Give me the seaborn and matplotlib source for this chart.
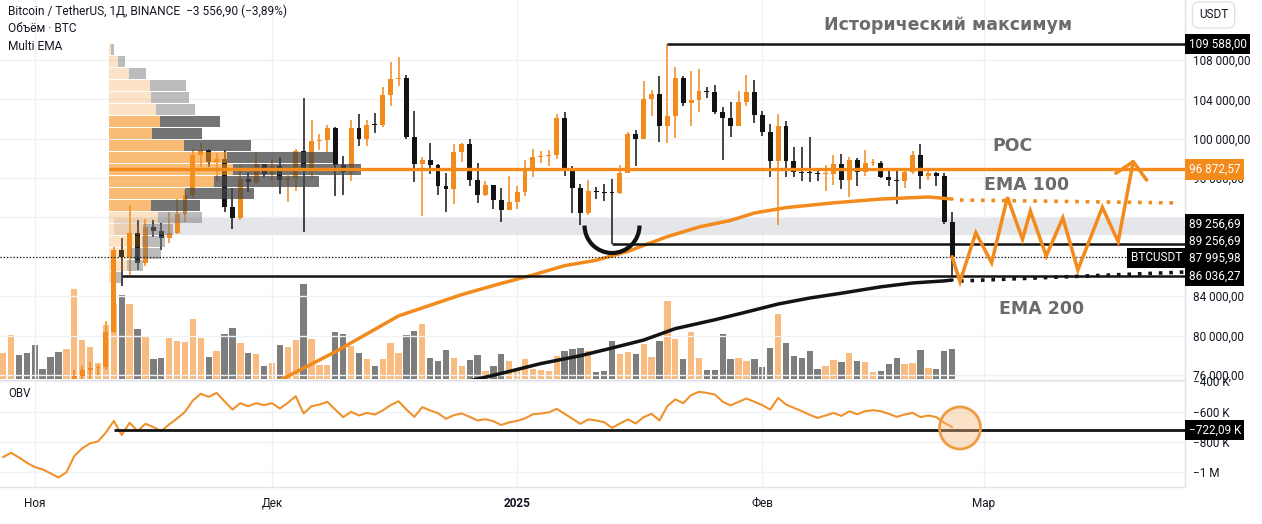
import numpy as np
import pandas as pd
import matplotlib
matplotlib.use("Agg")
import matplotlib.pyplot as plt
import matplotlib.dates as mdates
from matplotlib.patches import Arc, Ellipse
import seaborn as sns

# ---------------- data ----------------
# daily BTCUSDT candles, first one 2024-11-06
candle_start = "2024-11-06"
opens = [75300, 75900, 76540, 76680, 76800, 80370, 88650, 87950, 90380, 87330,
         91030, 90590, 89860, 90460, 92310, 94290, 98320, 98890, 97670, 97900,
         93010, 91970, 95860, 95640, 97460, 96410, 97190, 95840, 96000, 98770,
         96940, 99740, 99830, 101110, 97280, 96590, 101130, 100000, 101420, 101370,
         104460, 106060, 106130, 100200, 97460, 97810, 97290, 95190, 94880, 98660,
         99430, 95790, 94300, 95300, 93740, 92790, 93580, 94590, 96990, 98170,
         98240, 98310, 102080, 96920, 95040, 92480, 94700, 94570, 94490, 94470,
         96530, 100500, 99990, 104080, 104560, 101330, 102260, 106140, 103650, 103960,
         104820, 104710, 102680, 102090, 101330, 103730, 104720, 102430, 100640, 97700,
         101330, 97760, 96610, 96550, 96510, 96440, 96460, 97430, 95780, 97870,
         96610, 97500, 97570, 96120, 95780, 95670, 96640, 98310, 96180, 96550,
         96260, 91550]
highs = [76500, 76900, 77270, 76990, 81500, 89000, 89960, 93270, 91790, 91850,
         91780, 91450, 92600, 93900, 94830, 98990, 99590, 98910, 98560, 98870,
         94970, 97210, 96650, 98690, 97460, 97840, 98130, 96310, 99000, 104090,
         101900, 100440, 101350, 101220, 98270, 101890, 102540, 101900, 102650, 105250,
         107780, 108350, 106520, 102800, 98100, 99540, 97450, 96540, 99490, 99570,
         99960, 97540, 95730, 95300, 95020, 96250, 95150, 97840, 98980, 98730,
         98810, 102480, 102720, 97260, 95350, 95840, 95050, 95390, 95890, 97370,
         100680, 100870, 105870, 104990, 106420, 109590, 107240, 106390, 106850, 107120,
         105290, 105500, 103220, 103780, 104800, 106460, 106010, 102780, 101460, 102500,
         101750, 99150, 99120, 100140, 96880, 97320, 98350, 98480, 98120, 98080,
         98830, 97970, 97700, 97050, 96750, 96900, 98710, 99480, 96980, 96650,
         96500, 92540]
lows = [74400, 74750, 75570, 75950, 76490, 80220, 85070, 86130, 86670, 87070,
        90060, 88720, 89380, 90360, 91500, 94010, 97120, 97140, 95730, 92600,
        90790, 91790, 94610, 95390, 96150, 95690, 94390, 93580, 94660, 90500,
        95980, 98840, 98660, 94150, 94260, 95660, 99310, 99210, 100610, 101240,
        103330, 105320, 100000, 95590, 92180, 96400, 94250, 92520, 93380, 97630,
        95200, 93500, 94140, 92880, 91530, 92750, 92890, 94200, 96100, 97560,
        97250, 97930, 96180, 92500, 91220, 92210, 93830, 93690, 89260, 94350,
        96500, 97260, 99950, 102280, 99650, 99550, 100120, 103340, 101260, 102750,
        104110, 102520, 97800, 100210, 101330, 103280, 101560, 100280, 96150, 91230,
        96150, 96160, 95680, 95620, 95690, 94710, 95260, 94880, 94090, 95220,
        96250, 97220, 96050, 95210, 93390, 95030, 96420, 94870, 95770, 95230,
        91350, 86040]
closes = [75900, 76540, 76680, 76800, 80370, 88650, 87950, 90380, 87330, 91030,
          90590, 89860, 90460, 92310, 94290, 98320, 98890, 97670, 97900, 93010,
          91970, 95860, 95640, 97460, 96410, 97190, 95840, 96000, 98770, 96940,
          99740, 99830, 101110, 97280, 96590, 101130, 100000, 101420, 101370, 104460,
          106060, 106130, 100200, 97460, 97810, 97290, 95190, 94880, 98660, 99430,
          95790, 94300, 95300, 93740, 92790, 93580, 94590, 96990, 98170, 98240,
          98310, 102080, 96920, 95040, 92480, 94700, 94570, 94490, 94470, 96530,
          100500, 99990, 104080, 104560, 101330, 102260, 106140, 103650, 103960, 104820,
          104710, 102680, 102090, 101330, 103730, 104720, 102430, 100640, 97700, 101330,
          97760, 96610, 96550, 96510, 96440, 96460, 97430, 95780, 97870, 96610,
          97500, 97570, 96120, 95780, 95670, 96640, 98310, 96180, 96550, 96260,
          91550, 87996]

# volume (thousand BTC, approx), first bar 2024-10-28; u = up day, d = down day
vol_start = "2024-10-28"
volume = [26, 44, 24, 26, 34, 10, 22, 27, 30, 90,
          39, 32, 16, 54, 75, 84, 75, 50, 42, 20,
          21, 41, 38, 37, 60, 41, 22, 28, 45, 51,
          36, 26, 25, 13, 16, 34, 32, 39, 95, 40,
          14, 14, 47, 45, 33, 26, 20, 13, 20, 36,
          26, 44, 48, 55, 21, 18, 29, 21, 13, 19,
          24, 8, 13, 25, 18, 10, 20, 10, 9, 8,
          23, 28, 30, 31, 28, 7, 8, 38, 25, 27,
          25, 35, 22, 38, 78, 40, 20, 47, 21, 9,
          9, 45, 20, 21, 18, 20, 12, 31, 65, 36,
          23, 21, 28, 10, 13, 19, 17, 26, 18, 17,
          7, 8, 15, 21, 15, 16, 29, 11, 10, 28,
          30]
vol_dir = ("uudddddduu uuuuududud duuuuududd udududuudu uuddududuu "
           "udduddduud dudduuuuuu uddduddduu duuduuduud ddduudddud "
           "dddduududu uddduududd d").replace(" ", "")

# OBV, thousand BTC, same days as volume
obv = [-900, -871, -902, -937, -965, -981, -1007, -1034, -1000, -893,
       -842, -809, -796, -738, -661, -754, -673, -728, -680, -702,
       -728, -684, -645, -601, -526, -482, -502, -476, -531, -586,
       -544, -564, -544, -557, -544, -579, -542, -498, -612, -564,
       -553, -535, -586, -636, -601, -625, -608, -619, -592, -557,
       -531, -586, -634, -570, -592, -610, -647, -623, -612, -634,
       -658, -650, -663, -688, -670, -661, -644, -617, -612, -605,
       -581, -614, -647, -680, -651, -658, -669, -707, -678, -651,
       -678, -636, -614, -658, -563, -519, -544, -491, -469, -476,
       -487, -535, -559, -535, -513, -535, -557, -586, -509, -553,
       -575, -597, -621, -641, -625, -608, -628, -597, -617, -597,
       -590, -597, -614, -634, -619, -608, -636, -625, -636, -673,
       -702]

ema100_dates = ["2024-11-28", "2024-12-02", "2024-12-09", "2024-12-17", "2024-12-25",
                "2024-12-30", "2025-01-03", "2025-01-07", "2025-01-11", "2025-01-15",
                "2025-01-20", "2025-01-24", "2025-01-28", "2025-01-31", "2025-02-04",
                "2025-02-10", "2025-02-16", "2025-02-22", "2025-02-25"]
ema100 = [73810, 75450, 78340, 81990, 84160, 85300, 86150, 87100, 87650, 88550,
          90050, 91030, 91700, 92450, 93000, 93480, 93870, 94080, 93870]
ema200_dates = ["2024-12-24", "2024-12-27", "2024-12-30", "2025-01-04", "2025-01-09",
                "2025-01-13", "2025-01-17", "2025-01-21", "2025-01-26", "2025-01-30",
                "2025-02-03", "2025-02-07", "2025-02-11", "2025-02-16", "2025-02-20",
                "2025-02-24", "2025-02-25"]
ema200 = [75000, 75580, 76150, 77150, 77950, 78730, 79540, 80700, 81600, 82390,
          83200, 83810, 84300, 84950, 85340, 85550, 85640]

# dotted projections of both EMAs (days after 2024-11-01)
ema100_ext_day = [117.0, 144.8]
ema100_ext = [93770, 93470]
ema200_ext_day = [117.0, 145.4]
ema200_ext = [85540, 86450]

# visible-range volume profile (20 rows, top to bottom): up / down volume
profile_price = [109032, 107816, 106600, 105384, 104168, 102952, 101736, 100520, 99304, 98088,
                 96872, 95656, 94440, 93224, 92008, 90792, 89576, 88360, 87144, 85928]
profile_up = [2, 9, 20, 41, 42, 47, 51, 43, 75, 118, 124, 105, 76, 42, 49, 34, 33, 22, 18, 7]
profile_down = [3, 7, 17, 36, 38, 39, 60, 50, 67, 106, 128, 105, 69, 49, 44, 30, 23, 30, 16, 5]
value_area = [False] * 6 + [True] * 8 + [False] * 6

poc = 96872.57
ath = 109588.00
support_1 = 89256.69
support_2 = 86036.27
last_price = 87995.98
obv_level = -722.09
zone_low, zone_high = 90200, 91900

# hand-drawn forecast path (days after 2024-11-01, price)
path_day = [116.0, 117.0, 119.0, 121.0, 123.0, 124.9, 125.9, 127.9, 130.0, 131.9, 135.0, 137.0, 138.9]
path_price = [88010, 85470, 90450, 87400, 94050, 89780, 92655, 88080, 91970, 86660, 93030, 89530, 97665]
arrow_day = [136.7, 138.9, 140.6]
arrow_price = [96490, 97665, 95800]

months = ["2024-11-01", "2024-12-01", "2025-01-01", "2025-02-01", "2025-03-01"]
month_labels = ["Ноя", "Дек", "2025", "Фев", "Мар"]

# ---------------- style ----------------
ORANGE = "#f28a1c"
BLACK = "#131313"
GRID = "#f0f1f4"
EDGE = "#e0e3eb"
W, H = 1262, 524
PX_DAY = 7.91        # pixels per day
PX_K = 0.1515        # pixels per thousand OBV

sns.set_style("white")
plt.rcParams["font.family"] = ["Roboto", "DejaVu Sans"]


def rect(x0, y0, x1, y1):
    return [x0 / W, 1 - y1 / H, (x1 - x0) / W, (y1 - y0) / H]


def dnum(s):
    if isinstance(s, str):
        return mdates.date2num(pd.Timestamp(s))
    return mdates.date2num(pd.to_datetime(s).values)


t0 = mdates.date2num(pd.Timestamp("2024-11-01"))
cx = mdates.date2num(pd.date_range(candle_start, periods=len(opens)).values)
vx = mdates.date2num(pd.date_range(vol_start, periods=len(volume)).values)

fig = plt.figure(figsize=(W / 100, H / 100), dpi=100)
ax_vol = fig.add_axes(rect(0, 0, 1185, 379))
ax = fig.add_axes(rect(0, 0, 1185, 379), sharex=ax_vol)
ax_obv = fig.add_axes(rect(0, 380, 1185, 487), sharex=ax_vol)
ax.patch.set_alpha(0)
ax_vol.axis("off")

xmin, xmax = t0 - 4.39, t0 + 145.45
ax.set_xlim(xmin, xmax)
ax.set_ylim(75581, 114097)
ax_vol.set_ylim(0, 379)
ax_obv.set_ylim(-1097, -391)

# volume
vcol = ["#f8bb80" if d == "u" else "#7d7d7d" for d in vol_dir]
ax_vol.bar(vx, volume, width=0.8, color=vcol, linewidth=0)

# grey zone
ax.fill_between([dnum("2024-11-11"), xmax], zone_low, zone_high, color="#e5e6e9", lw=0, zorder=1)

# candles
o, h, l, c = map(np.array, (opens, highs, lows, closes))
ccol = np.where(c >= o, ORANGE, BLACK)
ax.vlines(cx, l, h, colors=ccol, lw=1.1, zorder=3)
ax.bar(cx, np.maximum(np.abs(c - o), 110), bottom=np.minimum(o, c), width=0.62,
       color=ccol, linewidth=0, zorder=3)

# volume profile
p_left = dnum("2024-11-10") + 0.4
up_w = np.array(profile_up) / PX_DAY
dn_w = np.array(profile_down) / PX_DAY
for y, uw, dw, va in zip(profile_price, up_w, dn_w, value_area):
    ax.barh(y, uw, left=p_left, height=1090,
            color=(0.97, 0.58, 0.12, 0.62 if va else 0.26), lw=0, zorder=5)
    ax.barh(y, dw, left=p_left + uw, height=1090,
            color=(0.27, 0.27, 0.27, 0.75) if va else (0.48, 0.48, 0.48, 0.5), lw=0, zorder=5)

# EMAs
sns.lineplot(x=dnum(ema100_dates), y=ema100, ax=ax, color=ORANGE, lw=2.5, zorder=6)
sns.lineplot(x=dnum(ema200_dates), y=ema200, ax=ax, color=BLACK, lw=2.5, zorder=6)
ax.plot(t0 + np.array(ema100_ext_day), ema100_ext, color=ORANGE, lw=2.6,
        ls=(0, (1, 1.9)), zorder=6)
ax.plot(t0 + np.array(ema200_ext_day), ema200_ext, color=BLACK, lw=2.6,
        ls=(0, (1, 1.9)), zorder=6)

# horizontal rays
ax.hlines(poc, p_left, xmax, color=ORANGE, lw=2.4, zorder=6)
ax.hlines(ath, dnum("2025-01-20"), xmax, color=BLACK, lw=1.8, zorder=6)
ax.hlines(support_1, dnum("2025-01-13"), xmax, color=BLACK, lw=1.8, zorder=6)
ax.hlines(support_2, dnum("2024-11-12"), xmax, color=BLACK, lw=1.8, zorder=6)
ax.axhline(last_price, xmax=1128 / 1185, color=BLACK, lw=0.9, ls=(0, (1, 1.6)), zorder=6)

# smile under the January low
ax.add_patch(Arc((dnum("2025-01-13"), 91180), 55 / PX_DAY, 55 / 0.00984,
                 theta1=208, theta2=332, color=BLACK, lw=3, zorder=7))

# forecast zigzag
ax.plot(t0 + np.array(path_day), path_price, color=ORANGE, lw=2.5, zorder=7,
        solid_joinstyle="miter")
ax.plot(t0 + np.array(arrow_day), arrow_price, color=ORANGE, lw=2.5, zorder=7)

# OBV
sns.lineplot(x=vx, y=obv, ax=ax_obv, color="#f0922b", lw=1.5, zorder=4)
ax_obv.hlines(obv_level, dnum("2024-11-11"), xmax, color=BLACK, lw=2, zorder=5)
ax_obv.add_patch(Ellipse((t0 + 117.0, -707.6), 41 / PX_DAY, 42 / PX_K,
                         fc=(0.97, 0.72, 0.48, 0.4), ec="#ef9a45", lw=2, zorder=6))
ax_obv.text(0.007, 0.87, "OBV", transform=ax_obv.transAxes, fontsize=8.3,
            color="#131722", va="center")

# axes cosmetics
mx = dnum(months)
ax_obv.set_xticks(mx)
ax_obv.set_xticklabels(month_labels)
ax_obv.tick_params(axis="x", length=0, pad=7, labelsize=8.5, labelcolor="#131722")
ax_obv.get_xticklabels()[2].set_fontweight("bold")
ax.tick_params(axis="x", labelbottom=False, length=0)


def fmt(v):
    return f"{v:,.2f}".replace(",", " ").replace(".", ",")


pt = np.arange(76000, 112000, 4000)
ax.set_yticks(pt)
# 88 000 sits completely under the last-price tag, so it is left blank
ax.set_yticklabels(["" if v == 88000 else fmt(v) for v in pt])
ax.yaxis.tick_right()
ax.tick_params(axis="y", length=0, pad=6, labelsize=8.5, labelcolor="#131722")

ot = [-400, -600, -800, -1000]
ax_obv.set_yticks(ot)
ax_obv.set_yticklabels(["\u2212400 K", "\u2212600 K", "\u2212800 K", "\u22121 M"])
ax_obv.yaxis.tick_right()
ax_obv.tick_params(axis="y", length=0, pad=6, labelsize=8.5, labelcolor="#131722")

for a in (ax, ax_obv):
    a.grid(True, color=GRID, lw=1)
    a.set_axisbelow(True)
    a.set_xlabel("")
    a.set_ylabel("")
    for s in a.spines.values():
        s.set_color(EDGE)
        s.set_linewidth(1)
    a.spines["left"].set_visible(False)
ax.spines["top"].set_visible(False)
ax.spines["bottom"].set_visible(False)


def tag(a, y, text, fc="black", x=1.003):
    a.text(x, y, text, transform=a.get_yaxis_transform(), ha="left", va="center",
           fontsize=8.5, color="white", clip_on=False, zorder=20,
           bbox=dict(boxstyle="square,pad=0.3", fc=fc, ec="none"))


tag(ax, ath, fmt(ath))
tag(ax, poc, fmt(poc), fc="#f28a1c")
tag(ax, 91330, fmt(support_1))
tag(ax, 89610, fmt(support_1))
tag(ax, 87880, fmt(last_price))
tag(ax, 86050, fmt(support_2))
tag(ax, 87880, "BTCUSDT", x=1131 / 1185)
tag(ax_obv, obv_level, "\u2212722,09 K")

# legend text (top left)
for i, t in enumerate(["Bitcoin / TetherUS, 1Д, BINANCE  \u22123 556,90 (\u22123,89%)",
                       "Объём · BTC", "Multi EMA"]):
    fig.text(8 / W, 1 - (11 + 18 * i) / H, t, fontsize=8.6, color="#131722", va="center")

fig.text(1199 / W, 1 - 15 / H, "USDT", fontsize=8.5, color="#131722", va="center",
         bbox=dict(boxstyle="round,pad=0.55", fc="white", ec=EDGE))

# drawing labels
lab = dict(family=["DejaVu Sans"], fontsize=12.5, color="#6b6b6b", weight="bold",
           ha="center", va="center")
fig.text(948 / W, 1 - 25 / H, "Исторический максимум", **lab)
fig.text(1013 / W, 1 - 146 / H, "POC", **lab)
fig.text(1027 / W, 1 - 185 / H, "EMA 100", **lab)
fig.text(1042 / W, 1 - 309 / H, "EMA 200", **lab)

fig.savefig("out.png", dpi=100, facecolor="white")
